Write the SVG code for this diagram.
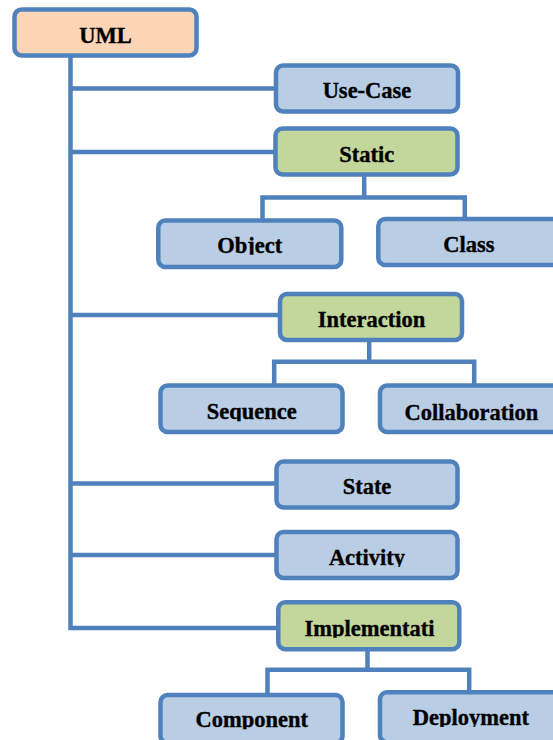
<svg xmlns="http://www.w3.org/2000/svg" width="553" height="740" viewBox="0 0 553 740">
<style>
.box{stroke:#4F81BD;stroke-width:4.5;}
.root{fill:#FBD5B5;}
.leaf{fill:#B9CDE5;}
.grp{fill:#C3D69B;}
.lbl{font-family:"Liberation Serif","Times New Roman",serif;font-weight:bold;font-size:22.5px;fill:#000;stroke:#000;stroke-width:0.35;text-anchor:middle;clip-path:url(#cut);}
.con{fill:none;stroke:#4F81BD;stroke-width:4.5;}
</style>
<defs>
<clipPath id="cut" clipPathUnits="objectBoundingBox"><rect x="-0.1" y="0" width="1.2" height="0.88"/></clipPath>
</defs>
<rect width="553" height="740" fill="#FFFFFF"/>
<g id="connectors">
<path class="con" d="M70.5,57 V628 H279"/>
<path class="con" d="M70.5,88.5 H277"/>
<path class="con" d="M70.5,152 H276"/>
<path class="con" d="M70.5,315 H281"/>
<path class="con" d="M70.5,483.5 H277"/>
<path class="con" d="M70.5,555 H277"/>
<path class="con" d="M364.2,176 V197.5 M262.5,221 V197.5 H464.8 V219"/>
<path class="con" d="M369.2,340 V361.7 M274.2,386 V361.7 H474.2 V386"/>
<path class="con" d="M367.5,650 V669.8 M267.5,695 V669.8 H469.2 V693"/>
</g>
<g id="uml"><rect class="box root" x="14.5" y="9.5" width="182" height="46" rx="7"/><text class="lbl" x="105.6" y="43.3">UML</text></g>
<g id="usecase"><rect class="box leaf" x="276" y="65.5" width="182" height="46" rx="7"/><text class="lbl" x="367" y="98.3">Use-Case</text></g>
<g id="static"><rect class="box grp" x="275.5" y="128.5" width="182" height="46" rx="7"/><text class="lbl" x="366.7" y="162.3">Static</text></g>
<g id="object"><rect class="box leaf" x="158.3" y="220.5" width="183" height="46.5" rx="7"/><text class="lbl" x="249.7" y="252.7">Object</text></g>
<g id="class"><rect class="box leaf" x="378.3" y="219" width="183" height="46" rx="7"/><text class="lbl" x="469" y="251.7">Class</text></g>
<g id="interaction"><rect class="box grp" x="280" y="294" width="182" height="46" rx="7"/><text class="lbl" x="371.5" y="326.7">Interaction</text></g>
<g id="sequence"><rect class="box leaf" x="160.5" y="385.5" width="182" height="46.5" rx="7"/><text class="lbl" x="251.7" y="419.3">Sequence</text></g>
<g id="collaboration"><rect class="box leaf" x="380" y="385.5" width="182" height="46.5" rx="7"/><text class="lbl" x="471.5" y="420">Collaboration</text></g>
<g id="state"><rect class="box leaf" x="276.5" y="461.5" width="181" height="46" rx="7"/><text class="lbl" x="367" y="494.3">State</text></g>
<g id="activity"><rect class="box leaf" x="276.5" y="532" width="181" height="46" rx="7"/><text class="lbl" x="367" y="565">Activity</text></g>
<g id="implementation"><rect class="box grp" x="278.3" y="602.2" width="181" height="47" rx="7"/><text class="lbl" x="369.5" y="635.7">Implementati</text></g>
<g id="component"><rect class="box leaf" x="160.5" y="695" width="182" height="48" rx="7"/><text class="lbl" x="251.7" y="727.3">Component</text></g>
<g id="deployment"><rect class="box leaf" x="380" y="692.2" width="182" height="50" rx="7"/><text class="lbl" x="470.8" y="725">Deployment</text></g>
</svg>
